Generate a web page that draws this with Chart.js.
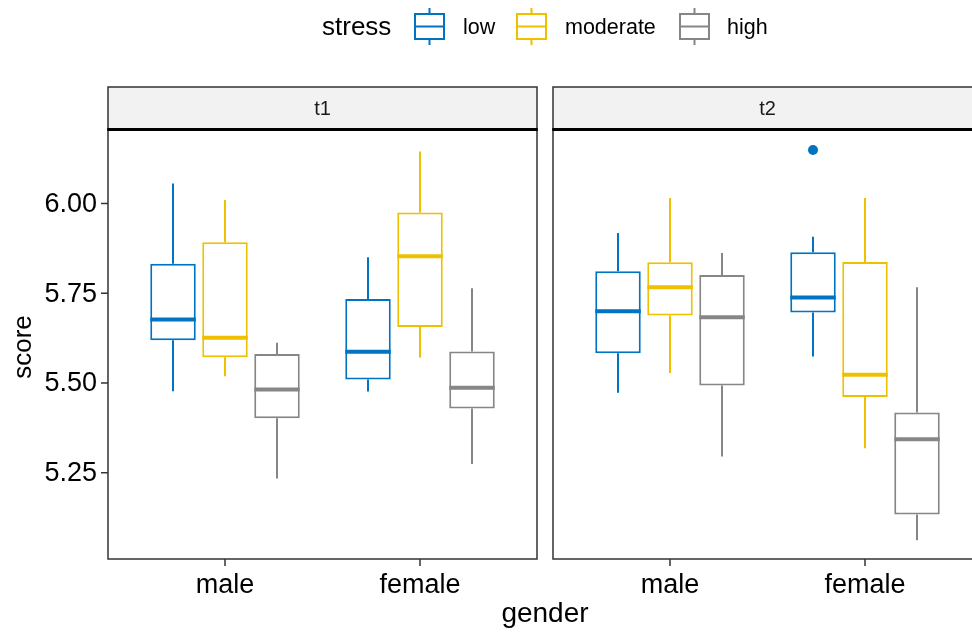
<!DOCTYPE html>
<html>
<head>
<meta charset="utf-8">
<script src="https://cdn.jsdelivr.net/npm/chart.js@4.4.1/dist/chart.umd.min.js"></script>
<style>
  html, body { margin: 0; padding: 0; background: #ffffff; }
  #wrap { position: relative; width: 972px; height: 634px; overflow: hidden; }
  canvas { position: absolute; top: 0; }
  #c1 { left: 0; }
  #c2 { left: 545px; }
</style>
</head>
<body>
<div id="wrap">
  <canvas id="c1" width="972" height="634"></canvas>
  <canvas id="c2" width="440" height="634"></canvas>
</div>
<script>
const genders = ['male', 'female'];
const stressLevels = ['low', 'moderate', 'high'];
const stressColors = ['#0073C2', '#EFC000', '#868686'];
const facets = ['t1', 't2'];
const scoreTicks = [5.25, 5.50, 5.75, 6.00];
const scoreRange = [5.0097, 6.2047];

// five-number summaries: [lower whisker, Q1, median, Q3, upper whisker], one row per gender
const t1Low      = [[5.477, 5.619, 5.677, 5.832, 6.056], [5.476, 5.510, 5.587, 5.734, 5.850]];
const t1Moderate = [[5.519, 5.572, 5.626, 5.892, 6.010], [5.571, 5.656, 5.853, 5.975, 6.145]];
const t1High     = [[5.234, 5.402, 5.482, 5.581, 5.612], [5.274, 5.429, 5.487, 5.588, 5.764]];
const t2Low      = [[5.473, 5.583, 5.700, 5.811, 5.918], [5.574, 5.696, 5.738, 5.864, 5.907]];
const t2Moderate = [[5.528, 5.688, 5.767, 5.836, 6.015], [5.318, 5.461, 5.523, 5.837, 6.015]];
const t2High     = [[5.295, 5.493, 5.683, 5.801, 5.862], [5.062, 5.134, 5.343, 5.418, 5.767]];
// points beyond the whiskers, one list per gender
const t1LowOutliers = [[], []];
const t2LowOutliers = [[], [6.149]];
const noOutliers = [[], []];

const FONT = '"Liberation Sans", Arial, Helvetica, sans-serif';
const INK = '#000000';
const FRAME = '#333333';

function text(ctx, str, x, y, size, align, baseline, color) {
  ctx.save();
  ctx.font = size + 'px ' + FONT;
  ctx.fillStyle = color || INK;
  ctx.textAlign = align;
  ctx.textBaseline = baseline;
  ctx.fillText(str, x, y);
  ctx.restore();
}

function boxDatasets(statsByLevel, outliersByLevel) {
  return stressLevels.map((lvl, k) => ({
    label: lvl,
    data: statsByLevel[k].map((s, i) => ({ x: i + 1, y: [s[1], s[3]] })),
    stats: statsByLevel[k],
    outliers: outliersByLevel[k],
    backgroundColor: '#ffffff',
    borderColor: stressColors[k],
    borderWidth: 2,
    borderSkipped: false,
    categoryPercentage: 0.8,
    barPercentage: 0.875
  }));
}

// whiskers, medians, outliers, facet strip and axes
const boxPlotPlugin = {
  id: 'boxPlot',
  beforeDatasetsDraw(chart) {
    const ctx = chart.ctx;
    const y = chart.scales.y;
    ctx.save();
    chart.data.datasets.forEach((ds, di) => {
      const meta = chart.getDatasetMeta(di);
      meta.data.forEach((el, i) => {
        const s = ds.stats[i];
        ctx.strokeStyle = ds.borderColor;
        ctx.lineWidth = 2;
        ctx.beginPath();
        ctx.moveTo(el.x, y.getPixelForValue(s[0]));
        ctx.lineTo(el.x, y.getPixelForValue(s[1]));
        ctx.moveTo(el.x, y.getPixelForValue(s[3]));
        ctx.lineTo(el.x, y.getPixelForValue(s[4]));
        ctx.stroke();
      });
    });
    ctx.restore();
  },
  afterDatasetsDraw(chart) {
    const ctx = chart.ctx;
    const y = chart.scales.y;
    ctx.save();
    chart.data.datasets.forEach((ds, di) => {
      const meta = chart.getDatasetMeta(di);
      meta.data.forEach((el, i) => {
        const s = ds.stats[i];
        const py = y.getPixelForValue(s[2]);
        ctx.strokeStyle = ds.borderColor;
        ctx.lineWidth = 4;
        ctx.beginPath();
        ctx.moveTo(el.x - el.width / 2, py);
        ctx.lineTo(el.x + el.width / 2, py);
        ctx.stroke();
        (ds.outliers[i] || []).forEach(v => {
          ctx.fillStyle = ds.borderColor;
          ctx.beginPath();
          ctx.arc(el.x, y.getPixelForValue(v), 5, 0, Math.PI * 2);
          ctx.fill();
        });
      });
    });
    ctx.restore();
  },
  afterDraw(chart, args, opts) {
    const ctx = chart.ctx;
    const a = chart.chartArea;
    const x = chart.scales.x;
    const y = chart.scales.y;
    ctx.save();
    // panel frame
    ctx.strokeStyle = FRAME;
    ctx.lineWidth = 1.5;
    ctx.strokeRect(a.left, a.top, a.right - a.left, a.bottom - a.top);
    // facet strip
    const stripTop = 87;
    ctx.fillStyle = '#F2F2F2';
    ctx.fillRect(a.left, stripTop, a.right - a.left, a.top - stripTop);
    ctx.strokeStyle = FRAME;
    ctx.lineWidth = 1.5;
    ctx.strokeRect(a.left, stripTop, a.right - a.left, a.top - stripTop);
    ctx.strokeStyle = '#000000';
    ctx.lineWidth = 3;
    ctx.beginPath();
    ctx.moveTo(a.left - 0.75, a.top - 0.5);
    ctx.lineTo(a.right + 0.75, a.top - 0.5);
    ctx.stroke();
    text(ctx, opts.facet, (a.left + a.right) / 2, (stripTop + a.top) / 2 + 1, 20, 'center', 'middle', '#1A1A1A');
    // x axis ticks and labels
    ctx.strokeStyle = FRAME;
    ctx.lineWidth = 1.5;
    genders.forEach((g, i) => {
      const px = x.getPixelForValue(i + 1);
      ctx.beginPath();
      ctx.moveTo(px, a.bottom);
      ctx.lineTo(px, a.bottom + 7);
      ctx.stroke();
      text(ctx, g, px, 593, 27, 'center', 'alphabetic');
    });
    if (opts.yAxis) {
      scoreTicks.forEach(v => {
        const py = y.getPixelForValue(v);
        ctx.beginPath();
        ctx.moveTo(a.left - 7, py);
        ctx.lineTo(a.left, py);
        ctx.stroke();
        text(ctx, v.toFixed(2), a.left - 11, py + 1, 27, 'right', 'middle');
      });
    }
    if (opts.decor) {
      // axis titles
      text(ctx, 'gender', 545, 622, 28, 'center', 'alphabetic');
      ctx.save();
      ctx.translate(31, 347);
      ctx.rotate(-Math.PI / 2);
      text(ctx, 'score', 0, 0, 26, 'center', 'alphabetic');
      ctx.restore();
      // legend
      text(ctx, 'stress', 322, 35, 26, 'left', 'alphabetic');
      const keyX = [414, 516, 679];
      const labelX = [463, 565, 727];
      stressLevels.forEach((lvl, k) => {
        const kx = keyX[k];
        ctx.strokeStyle = stressColors[k];
        ctx.lineWidth = 2;
        ctx.beginPath();
        ctx.moveTo(kx + 15.5, 8);
        ctx.lineTo(kx + 15.5, 14);
        ctx.moveTo(kx + 15.5, 39);
        ctx.lineTo(kx + 15.5, 45);
        ctx.stroke();
        ctx.strokeRect(kx + 1, 14, 29, 25);
        ctx.beginPath();
        ctx.moveTo(kx + 1, 26.5);
        ctx.lineTo(kx + 30, 26.5);
        ctx.stroke();
        text(ctx, lvl, labelX[k], 34, 21.5, 'left', 'alphabetic');
      });
    }
    ctx.restore();
  }
};

function makeChart(id, statsByLevel, outliersByLevel, padding, facet, first) {
  return new Chart(document.getElementById(id), {
    type: 'bar',
    data: { datasets: boxDatasets(statsByLevel, outliersByLevel) },
    options: {
      responsive: false,
      animation: false,
      events: [],
      layout: { padding: padding },
      plugins: {
        legend: { display: false },
        tooltip: { enabled: false },
        boxPlot: { facet: facet, yAxis: first, decor: first }
      },
      scales: {
        x: {
          type: 'linear',
          display: false,
          offset: false,
          min: 0.4,
          max: 2.6,
          afterBuildTicks: s => { s.ticks = genders.map((g, i) => ({ value: i + 1 })); }
        },
        y: {
          type: 'linear',
          display: false,
          min: scoreRange[0],
          max: scoreRange[1]
        }
      }
    },
    plugins: [boxPlotPlugin]
  });
}

makeChart('c1', [t1Low, t1Moderate, t1High], [t1LowOutliers, noOutliers, noOutliers],
  { left: 108, right: 435, top: 130, bottom: 75 }, facets[0], true);
makeChart('c2', [t2Low, t2Moderate, t2High], [t2LowOutliers, noOutliers, noOutliers],
  { left: 8, right: 3, top: 130, bottom: 75 }, facets[1], false);
</script>
</body>
</html>
